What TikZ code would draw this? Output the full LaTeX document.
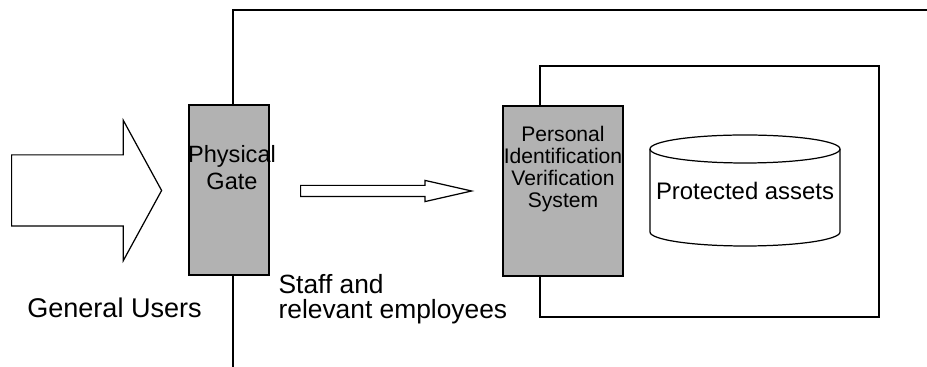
\documentclass[tikz,border=0pt]{standalone}
\usepackage{fontspec}
\setmainfont{Liberation Sans}
\usetikzlibrary{shapes,shapes.arrows,positioning}

\tikzset{
  gatebox/.style={draw, fill=gray!60, line width=0.35pt, minimum width=0.8cm, minimum height=1.7cm, inner sep=0pt},
  flowarrow/.style={draw, shape=single arrow, line width=0.35pt, anchor=tail, single arrow head indent=0pt},
}

\begin{document}
\begin{tikzpicture}[line width=0.35pt]
    \useasboundingbox (0,0) rectangle (9.27,3.67);

    % outer secured area
    \draw (2.33,0) -- (2.33,3.57) -- (9.27,3.57);
    % inner area
    \draw (5.40,3.01) rectangle (8.79,0.50);

    \node[flowarrow, inner sep=0.35cm, minimum height=1.5cm, single arrow head extend=0.345cm, single arrow tip angle=122.7] (users) at (0.11,1.765) {};
    \node[flowarrow, inner sep=0.05cm, minimum height=1.71cm, single arrow head extend=0.05cm, single arrow tip angle=25.6] (staff) at (3.00,1.76) {};

    \node[gatebox] (gate) at (2.29,1.77) {};
    \node[font=\fontsize{6.7}{7.7}\selectfont, align=center, anchor=north, inner sep=0pt] (gatetext) at ([xshift=0.03cm, yshift=-0.40cm]gate.north) {Physical\\Gate};

    \node[gatebox, minimum width=1.2cm] (piv) at (5.63,1.76) {};
    \node[font=\fontsize{6}{6.3}\selectfont, align=center, anchor=north, inner sep=0pt] (pivtext) at ([yshift=-0.20cm]piv.north) {Personal\\Identification\\Verification\\System};

    % protected assets store
    \draw (6.50,2.18) -- (6.50,1.35) arc (180:360:0.95cm and 0.14cm) -- (8.40,2.18);
    \draw (7.45,2.18) ellipse (0.95cm and 0.14cm);
    \node[font=\fontsize{6.8}{8}\selectfont, inner sep=0pt] (assets) at (7.45,1.76) {Protected assets};

    \node[font=\fontsize{7.7}{9}\selectfont, inner sep=0pt] (userslabel) at (1.145,0.59) {General Users};
    \node[font=\fontsize{7.5}{7.1}\selectfont, align=left, anchor=north west, inner sep=0pt] (stafflabel) at (2.78,0.93) {Staff and\\relevant employees};
\end{tikzpicture}
\end{document}
